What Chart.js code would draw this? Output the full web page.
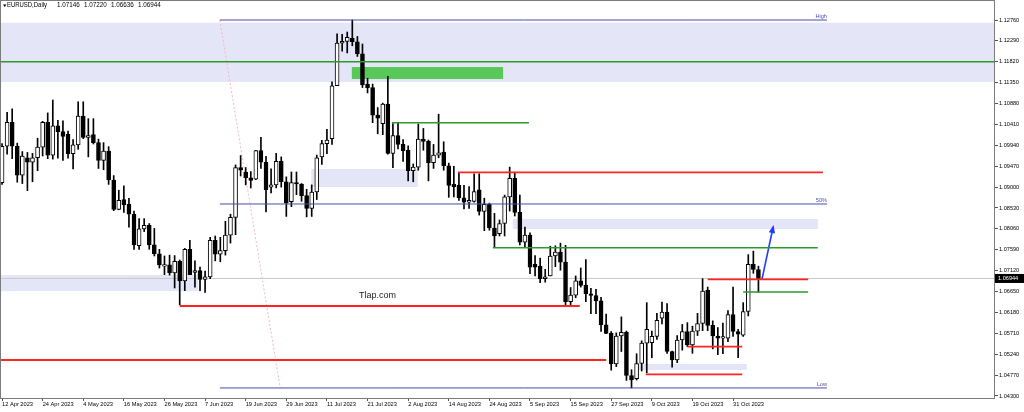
<!DOCTYPE html>
<html lang="en">
<head>
<meta charset="UTF-8">
<title>EURUSD,Daily</title>
<script src="https://cdn.jsdelivr.net/npm/chart.js@4"></script>
<style>
  html, body { margin: 0; padding: 0; background: #fff; }
  #wrap { width: 1024px; height: 412px; }
</style>
</head>
<body>
<div id="wrap"><canvas id="chart"></canvas></div>
<script>
// EURUSD daily bars, 12 Apr 2023 .. 7 Nov 2023 (one entry per bar)
const days = [
  '04-12','04-13','04-14','04-17','04-18','04-19','04-20','04-21','04-24','04-25',
  '04-26','04-27','04-28','05-01','05-02','05-03','05-04','05-05','05-08','05-09',
  '05-10','05-11','05-12','05-15','05-16','05-17','05-18','05-19','05-22','05-23',
  '05-24','05-25','05-26','05-29','05-30','05-31','06-01','06-02','06-05','06-06',
  '06-07','06-08','06-09','06-12','06-13','06-14','06-15','06-16','06-19','06-20',
  '06-21','06-22','06-23','06-26','06-27','06-28','06-29','06-30','07-03','07-04',
  '07-05','07-06','07-07','07-10','07-11','07-12','07-13','07-14','07-17','07-18',
  '07-19','07-20','07-21','07-24','07-25','07-26','07-27','07-28','07-31','08-01',
  '08-02','08-03','08-04','08-07','08-08','08-09','08-10','08-11','08-14','08-15',
  '08-16','08-17','08-18','08-21','08-22','08-23','08-24','08-25','08-28','08-29',
  '08-30','08-31','09-01','09-04','09-05','09-06','09-07','09-08','09-11','09-12',
  '09-13','09-14','09-15','09-18','09-19','09-20','09-21','09-22','09-25','09-26',
  '09-27','09-28','09-29','10-02','10-03','10-04','10-05','10-06','10-09','10-10',
  '10-11','10-12','10-13','10-16','10-17','10-18','10-19','10-20','10-23','10-24',
  '10-25','10-26','10-27','10-30','10-31','11-01','11-02','11-03','11-06','11-07'
];
const open = [
  1.0910,1.0992,1.1046,1.0992,1.0927,1.0966,1.0956,1.0966,1.0990,1.1046,
  1.0972,1.1038,1.1025,1.1019,1.0975,1.0995,1.1060,1.1012,1.1018,1.1000,
  1.0960,1.0981,1.0916,1.0850,1.0872,1.0862,1.0839,1.0768,1.0806,1.0814,
  1.0770,1.0750,1.0722,1.0725,1.0707,1.0733,1.0689,1.0760,1.0708,1.0712,
  1.0692,1.0698,1.0780,1.0749,1.0757,1.0792,1.0832,1.0944,1.0934,1.0921,
  1.0918,1.0982,1.0956,1.0900,1.0905,1.0958,1.0912,1.0867,1.0910,1.0907,
  1.0881,1.0852,1.0889,1.0968,1.0998,1.1009,1.1128,1.1224,1.1228,1.1235,
  1.1227,1.1200,1.1132,1.1124,1.1062,1.1043,1.1087,1.0976,1.1016,1.0996,
  1.0983,1.0937,1.0945,1.1008,1.1003,1.0955,1.0972,1.0979,1.0948,1.0906,
  1.0904,1.0876,1.0866,1.0868,1.0894,1.0845,1.0861,1.0808,1.0795,1.0818,
  1.0878,1.0920,1.0843,1.0776,1.0792,1.0726,1.0722,1.0694,1.0700,1.0745,
  1.0754,1.0731,1.0642,1.0657,1.0689,1.0679,1.0660,1.0656,1.0644,1.0590,
  1.0571,1.0502,1.0565,1.0573,1.0476,1.0469,1.0503,1.0549,1.0550,1.0564,
  1.0605,1.0619,1.0530,1.0511,1.0556,1.0575,1.0545,1.0576,1.0593,1.0668,
  1.0589,1.0565,1.0560,1.0560,1.0613,1.0575,1.0567,1.0620,1.0726,1.07146
];
const high = [
  1.0998,1.1068,1.1076,1.0999,1.0980,1.0978,1.0976,1.1010,1.1048,1.1067,
  1.1096,1.1050,1.1049,1.1026,1.1007,1.1092,1.1092,1.1054,1.1054,1.1008,
  1.1000,1.0991,1.0926,1.0893,1.0903,1.0875,1.0846,1.0829,1.0829,1.0818,
  1.0807,1.0760,1.0745,1.0747,1.0746,1.0736,1.0762,1.0780,1.0734,1.0720,
  1.0711,1.0787,1.0790,1.0787,1.0823,1.0839,1.0950,1.0971,1.0944,1.0935,
  1.0983,1.1012,1.0969,1.0941,1.0976,1.0968,1.0923,1.0934,1.0934,1.0908,
  1.0895,1.0905,1.0972,1.1005,1.1030,1.1137,1.1245,1.1244,1.1249,1.1276,
  1.1239,1.1222,1.1145,1.1132,1.1079,1.1089,1.1149,1.1043,1.1046,1.1007,
  1.0993,1.0952,1.1042,1.1032,1.1006,1.0996,1.1064,1.1002,1.0954,1.0947,
  1.0932,1.0904,1.0901,1.0930,1.0930,1.0875,1.0864,1.0841,1.0826,1.0882,
  1.0945,1.0932,1.0882,1.0810,1.0797,1.0746,1.0740,1.0715,1.0767,1.0768,
  1.0774,1.0769,1.0674,1.0700,1.0718,1.0737,1.0672,1.0670,1.0652,1.0614,
  1.0575,1.0572,1.0608,1.0576,1.0489,1.0525,1.0554,1.0640,1.0576,1.0616,
  1.0641,1.0638,1.0531,1.0566,1.0591,1.0595,1.0587,1.0616,1.0694,1.0675,
  1.0599,1.0584,1.0594,1.0622,1.0675,1.0580,1.0640,1.0748,1.0756,1.07220
];
const low = [
  1.0906,1.0974,1.0964,1.0911,1.0908,1.0892,1.0912,1.0937,1.0970,1.0964,
  1.0963,1.0965,1.0960,1.0965,1.0941,1.0985,1.1009,1.0968,1.0997,1.0942,
  1.0939,1.0906,1.0847,1.0849,1.0843,1.0810,1.0760,1.0760,1.0800,1.0760,
  1.0745,1.0718,1.0703,1.0702,1.0673,1.0635,1.0667,1.0706,1.0675,1.0667,
  1.0663,1.0694,1.0734,1.0732,1.0747,1.0774,1.0793,1.0925,1.0905,1.0898,
  1.0917,1.0942,1.0844,1.0887,1.0898,1.0900,1.0834,1.0856,1.0883,1.0868,
  1.0833,1.0834,1.0872,1.0951,1.0975,1.0996,1.1128,1.1206,1.1202,1.1218,
  1.1194,1.1124,1.1112,1.1045,1.1020,1.1018,1.0974,1.0944,1.0986,1.0958,
  1.0914,1.0912,1.0938,1.0983,1.0914,1.0942,1.0966,1.0938,1.0877,1.0878,
  1.0870,1.0851,1.0852,1.0866,1.0837,1.0802,1.0803,1.0766,1.0790,1.0790,
  1.0846,1.0835,1.0770,1.0765,1.0705,1.0700,1.0685,1.0686,1.0700,1.0721,
  1.0713,1.0632,1.0631,1.0651,1.0675,1.0642,1.0615,1.0615,1.0575,1.0570,
  1.0488,1.0496,1.0530,1.0465,1.0448,1.0466,1.0486,1.0482,1.0516,1.0557,
  1.0592,1.0526,1.0495,1.0505,1.0533,1.0541,1.0526,1.0566,1.0577,1.0577,
  1.0536,1.0523,1.0525,1.0552,1.0564,1.0516,1.0564,1.0610,1.0706,1.06636
];
const close = [
  1.0992,1.1046,1.0992,1.0927,1.0970,1.0956,1.0966,1.0990,1.1046,1.0972,
  1.1038,1.1025,1.1014,1.0975,1.0995,1.1060,1.1012,1.1016,1.1000,1.0960,
  1.0981,1.0916,1.0850,1.0870,1.0860,1.0839,1.0770,1.0806,1.0814,1.0770,
  1.0750,1.0725,1.0725,1.0707,1.0733,1.0689,1.0760,1.0703,1.0712,1.0692,
  1.0698,1.0780,1.0749,1.0757,1.0792,1.0832,1.0944,1.0938,1.0921,1.0915,
  1.0982,1.0956,1.0894,1.0905,1.0958,1.0912,1.0864,1.0910,1.0907,1.0881,
  1.0852,1.0889,1.0966,1.0998,1.1006,1.1128,1.1224,1.1228,1.1237,1.1227,
  1.1200,1.1130,1.1124,1.1062,1.1055,1.1087,1.0976,1.1016,1.0996,1.0982,
  1.0937,1.0945,1.1008,1.1003,1.0955,1.0972,1.0977,1.0948,1.0904,1.0901,
  1.0876,1.0866,1.0870,1.0890,1.0845,1.0861,1.0808,1.0790,1.0818,1.0878,
  1.0920,1.0843,1.0776,1.0792,1.0720,1.0720,1.0694,1.0698,1.0745,1.0754,
  1.0731,1.0642,1.0657,1.0689,1.0679,1.0660,1.0656,1.0644,1.0590,1.0571,
  1.0502,1.0565,1.0573,1.0476,1.0466,1.0503,1.0549,1.0580,1.0564,1.0600,
  1.0619,1.0530,1.0511,1.0556,1.0575,1.0545,1.0576,1.0593,1.0666,1.0589,
  1.0565,1.0560,1.0562,1.0613,1.0575,1.0569,1.0620,1.0726,1.07146,1.06944
];

// bottom axis: one label every 8 bars
const tickIdx = [0, 8, 16, 24, 32, 40, 48, 56, 64, 72, 80, 88, 96, 104, 112, 120, 128, 136, 144];
const tickLabels = ['12 Apr 2023','24 Apr 2023','4 May 2023','16 May 2023','26 May 2023','7 Jun 2023',
  '19 Jun 2023','29 Jun 2023','11 Jul 2023','21 Jul 2023','2 Aug 2023','14 Aug 2023','24 Aug 2023',
  '5 Sep 2023','15 Sep 2023','27 Sep 2023','9 Oct 2023','19 Oct 2023','31 Oct 2023'];
const priceTicks = [1.12760,1.12290,1.11820,1.11350,1.10880,1.10410,1.09940,1.09470,1.09000,1.08530,
  1.08060,1.07590,1.07120,1.06650,1.06180,1.05710,1.05240,1.04770,1.04300];

// drawn objects (bar index, price)
const zoneFrom   = [-1,      -1,      60.9,    100.6,   125.3];
const zoneTo     = [196,     38.6,    81.9,    160.7,   146.7];
const zoneTop    = [1.12700, 1.07022, 1.09407, 1.08282, 1.05019];
const zoneBottom = [1.11365, 1.06660, 1.09002, 1.08057, 1.04884];
const blockFrom = [68.9], blockTo = [98.7], blockTop = [1.11702], blockBottom = [1.11432];

const levelFrom  = [-1,     -1,      35,      76.8,    89.8,    96.7,    135,     126.8,   139,     146,     42.9,   42.9,   42.9];
const levelTo    = [196,    119,     113.8,   103.8,   161.7,   160.7,   145.8,   145.8,   158.8,   158.8,   162.5,  162.5,  162.5];
const levelPrice = [1.1182, 1.05109, 1.06324, 1.10449, 1.09333, 1.07636, 1.05409, 1.04787, 1.06925, 1.06640, 1.1276, 1.0862, 1.0448];
const levelKind  = ['green','red',   'red',   'green', 'red',   'green', 'red',   'red',   'red',   'green', 'fibo', 'fibo', 'fibo'];
const levelText  = ['',     '',      '',      '',      '',      '',      '',      '',      '',      '',      'High', '50%',  'Low'];

const fiboX = [42.9, 54.8], fiboY = [1.1276, 1.0448];
const arrowX = [149.7, 151.9], arrowY = [1.06930, 1.08102];
const brand = { text: 'Tlap.com', x: 70.3, y: 1.06550 };
const header = ['EURUSD,Daily', '1.07146', '1.07220', '1.06636', '1.06944'];

const FONT = 'Liberation Sans, Arial, sans-serif';
const kindColor = { red: '#ff2424', green: '#2b9a2b', fibo: '#4a4aa8' };
const kindWidth = { red: 1.8, green: 1.6, fibo: 1 };

const last = close.length - 1;
const idx = days.map((d, i) => i);

const levelSets = levelPrice.map((p, k) => ({
  type: 'line',
  data: [{ x: levelFrom[k], y: p }, { x: levelTo[k], y: p }],
  borderColor: kindColor[levelKind[k]],
  borderWidth: kindWidth[levelKind[k]],
  pointRadius: 0,
  order: 0
}));

const px = (c, v) => c.scales.x.getPixelForValue(v);
const py = (c, v) => c.scales.y.getPixelForValue(v);

const zonesPlugin = {
  id: 'zones',
  beforeDatasetsDraw(c) {
    const ctx = c.ctx, a = c.chartArea;
    ctx.save();
    ctx.beginPath();
    ctx.rect(a.left, a.top, a.width, a.height);
    ctx.clip();
    ctx.fillStyle = '#e5e5f8';
    zoneFrom.forEach((f, k) => {
      const x1 = px(c, f), x2 = px(c, zoneTo[k]);
      const y1 = py(c, zoneTop[k]), y2 = py(c, zoneBottom[k]);
      ctx.fillRect(x1, y1, x2 - x1, y2 - y1);
    });
    ctx.fillStyle = '#58c858';
    blockFrom.forEach((f, k) => {
      const x1 = px(c, f), x2 = px(c, blockTo[k]);
      const y1 = py(c, blockTop[k]), y2 = py(c, blockBottom[k]);
      ctx.fillRect(x1, y1, x2 - x1, y2 - y1);
    });
    ctx.restore();
  }
};

const decorPlugin = {
  id: 'decor',
  afterDatasetsDraw(c) {
    const ctx = c.ctx;
    // arrow head
    const pts = c.getDatasetMeta(c.data.datasets.length - 1).data;
    const p0 = pts[0], p1 = pts[1];
    const ang = Math.atan2(p1.y - p0.y, p1.x - p0.x);
    ctx.save();
    ctx.fillStyle = '#1f3cff';
    ctx.beginPath();
    ctx.moveTo(p1.x + Math.cos(ang) * 2, p1.y + Math.sin(ang) * 2);
    ctx.lineTo(p1.x - Math.cos(ang) * 6 + Math.sin(ang) * 3.2, p1.y - Math.sin(ang) * 6 - Math.cos(ang) * 3.2);
    ctx.lineTo(p1.x - Math.cos(ang) * 6 - Math.sin(ang) * 3.2, p1.y - Math.sin(ang) * 6 + Math.cos(ang) * 3.2);
    ctx.closePath();
    ctx.fill();

    // fibo captions
    ctx.fillStyle = '#5050a8';
    ctx.font = '5.6px ' + FONT;
    ctx.textAlign = 'right';
    ctx.textBaseline = 'bottom';
    levelText.forEach((t, k) => {
      if (t) ctx.fillText(t, px(c, levelTo[k]), py(c, levelPrice[k]) - 0.5);
    });

    // watermark text
    ctx.fillStyle = '#1a1a1a';
    ctx.font = '9px ' + FONT;
    ctx.textAlign = 'left';
    ctx.textBaseline = 'middle';
    ctx.fillText(brand.text, px(c, brand.x), py(c, brand.y));
    ctx.restore();
  },
  afterDraw(c) {
    const ctx = c.ctx, a = c.chartArea;
    ctx.save();
    // frame
    ctx.strokeStyle = '#7c7c7c';
    ctx.lineWidth = 1;
    ctx.strokeRect(a.left + 0.5, a.top - 0.5, a.right - a.left - 1, a.bottom - a.top + 1);

    // header
    ctx.fillStyle = '#000';
    ctx.beginPath();
    ctx.moveTo(3, 4.5); ctx.lineTo(6.5, 4.5); ctx.lineTo(4.75, 7);
    ctx.closePath(); ctx.fill();
    ctx.font = '6.3px ' + FONT;
    ctx.textAlign = 'left';
    ctx.textBaseline = 'middle';
    ctx.fillText(header[0], 7, 5.5, 40);
    for (let k = 1; k < header.length; k++) ctx.fillText(header[k], 57 + (k - 1) * 27, 5.5, 25);

    // current price box
    const y = py(c, close[last]);
    ctx.fillStyle = '#000';
    ctx.fillRect(a.right, y - 4.5, 29, 9);
    ctx.fillStyle = '#fff';
    ctx.font = '5.6px ' + FONT;
    ctx.fillText(close[last].toFixed(5), a.right + 3, y + 0.3);
    ctx.restore();
  }
};

new Chart(document.getElementById('chart'), {
  type: 'bar',
  data: {
    datasets: [
      {
        label: 'body',
        data: idx.map(i => ({ x: i, y: [open[i], close[i]] })),
        backgroundColor: idx.map(i => close[i] >= open[i] ? '#ffffff' : '#000000'),
        borderColor: '#000000',
        borderWidth: 1,
        borderSkipped: false,
        barThickness: 4,
        minBarLength: 1.5,
        grouped: false,
        order: 1
      },
      {
        label: 'wick',
        data: idx.map(i => ({ x: i, y: [low[i], high[i]] })),
        backgroundColor: '#000000',
        barThickness: 1,
        grouped: false,
        order: 2
      },
      {
        type: 'line',
        label: 'bid',
        data: [{ x: -1, y: close[last] }, { x: 196, y: close[last] }],
        borderColor: '#c8c8c8',
        borderWidth: 1,
        pointRadius: 0,
        order: 3
      },
      {
        type: 'line',
        label: 'fibo trend',
        data: fiboX.map((x, k) => ({ x, y: fiboY[k] })),
        borderColor: '#f4b8c0',
        borderWidth: 1,
        borderDash: [2, 2],
        pointRadius: 0,
        order: 3
      },
      ...levelSets,
      {
        type: 'line',
        label: 'arrow',
        data: arrowX.map((x, k) => ({ x, y: arrowY[k] })),
        borderColor: '#1f3cff',
        borderWidth: 1.6,
        pointRadius: 0,
        order: 0
      }
    ]
  },
  options: {
    responsive: true,
    maintainAspectRatio: false,
    animation: false,
    events: [],
    layout: { padding: { top: 1, left: 0, right: 0, bottom: 0 } },
    plugins: { legend: { display: false }, tooltip: { enabled: false } },
    scales: {
      x: {
        type: 'linear',
        min: -0.4,
        max: 195.6,
        offset: false,
        border: { display: false },
        grid: { drawOnChartArea: false, drawTicks: true, tickLength: 3, color: '#555', offset: false },
        afterBuildTicks: s => { s.ticks = tickIdx.map(v => ({ value: v })); },
        afterFit: s => { s.height = 14; s.paddingLeft = 0; s.paddingRight = 0; },
        ticks: {
          autoSkip: false, maxRotation: 0, minRotation: 0, align: 'start', padding: 0,
          color: '#000', font: { family: FONT, size: 5.7 },
          callback: v => tickLabels[tickIdx.indexOf(v)]
        }
      },
      y: {
        position: 'right',
        min: 1.04254,
        max: 1.13188,
        beginAtZero: false,
        border: { display: false },
        grid: { drawOnChartArea: false, drawTicks: true, tickLength: 3, color: '#555' },
        afterBuildTicks: s => { s.ticks = priceTicks.map(v => ({ value: v })); },
        afterFit: s => { s.width = 29; s.paddingTop = 0; s.paddingBottom = 0; },
        ticks: {
          autoSkip: false, padding: 1,
          color: '#000', font: { family: FONT, size: 5.6 },
          callback: v => v.toFixed(5)
        }
      }
    }
  },
  plugins: [zonesPlugin, decorPlugin]
});
</script>
</body>
</html>
